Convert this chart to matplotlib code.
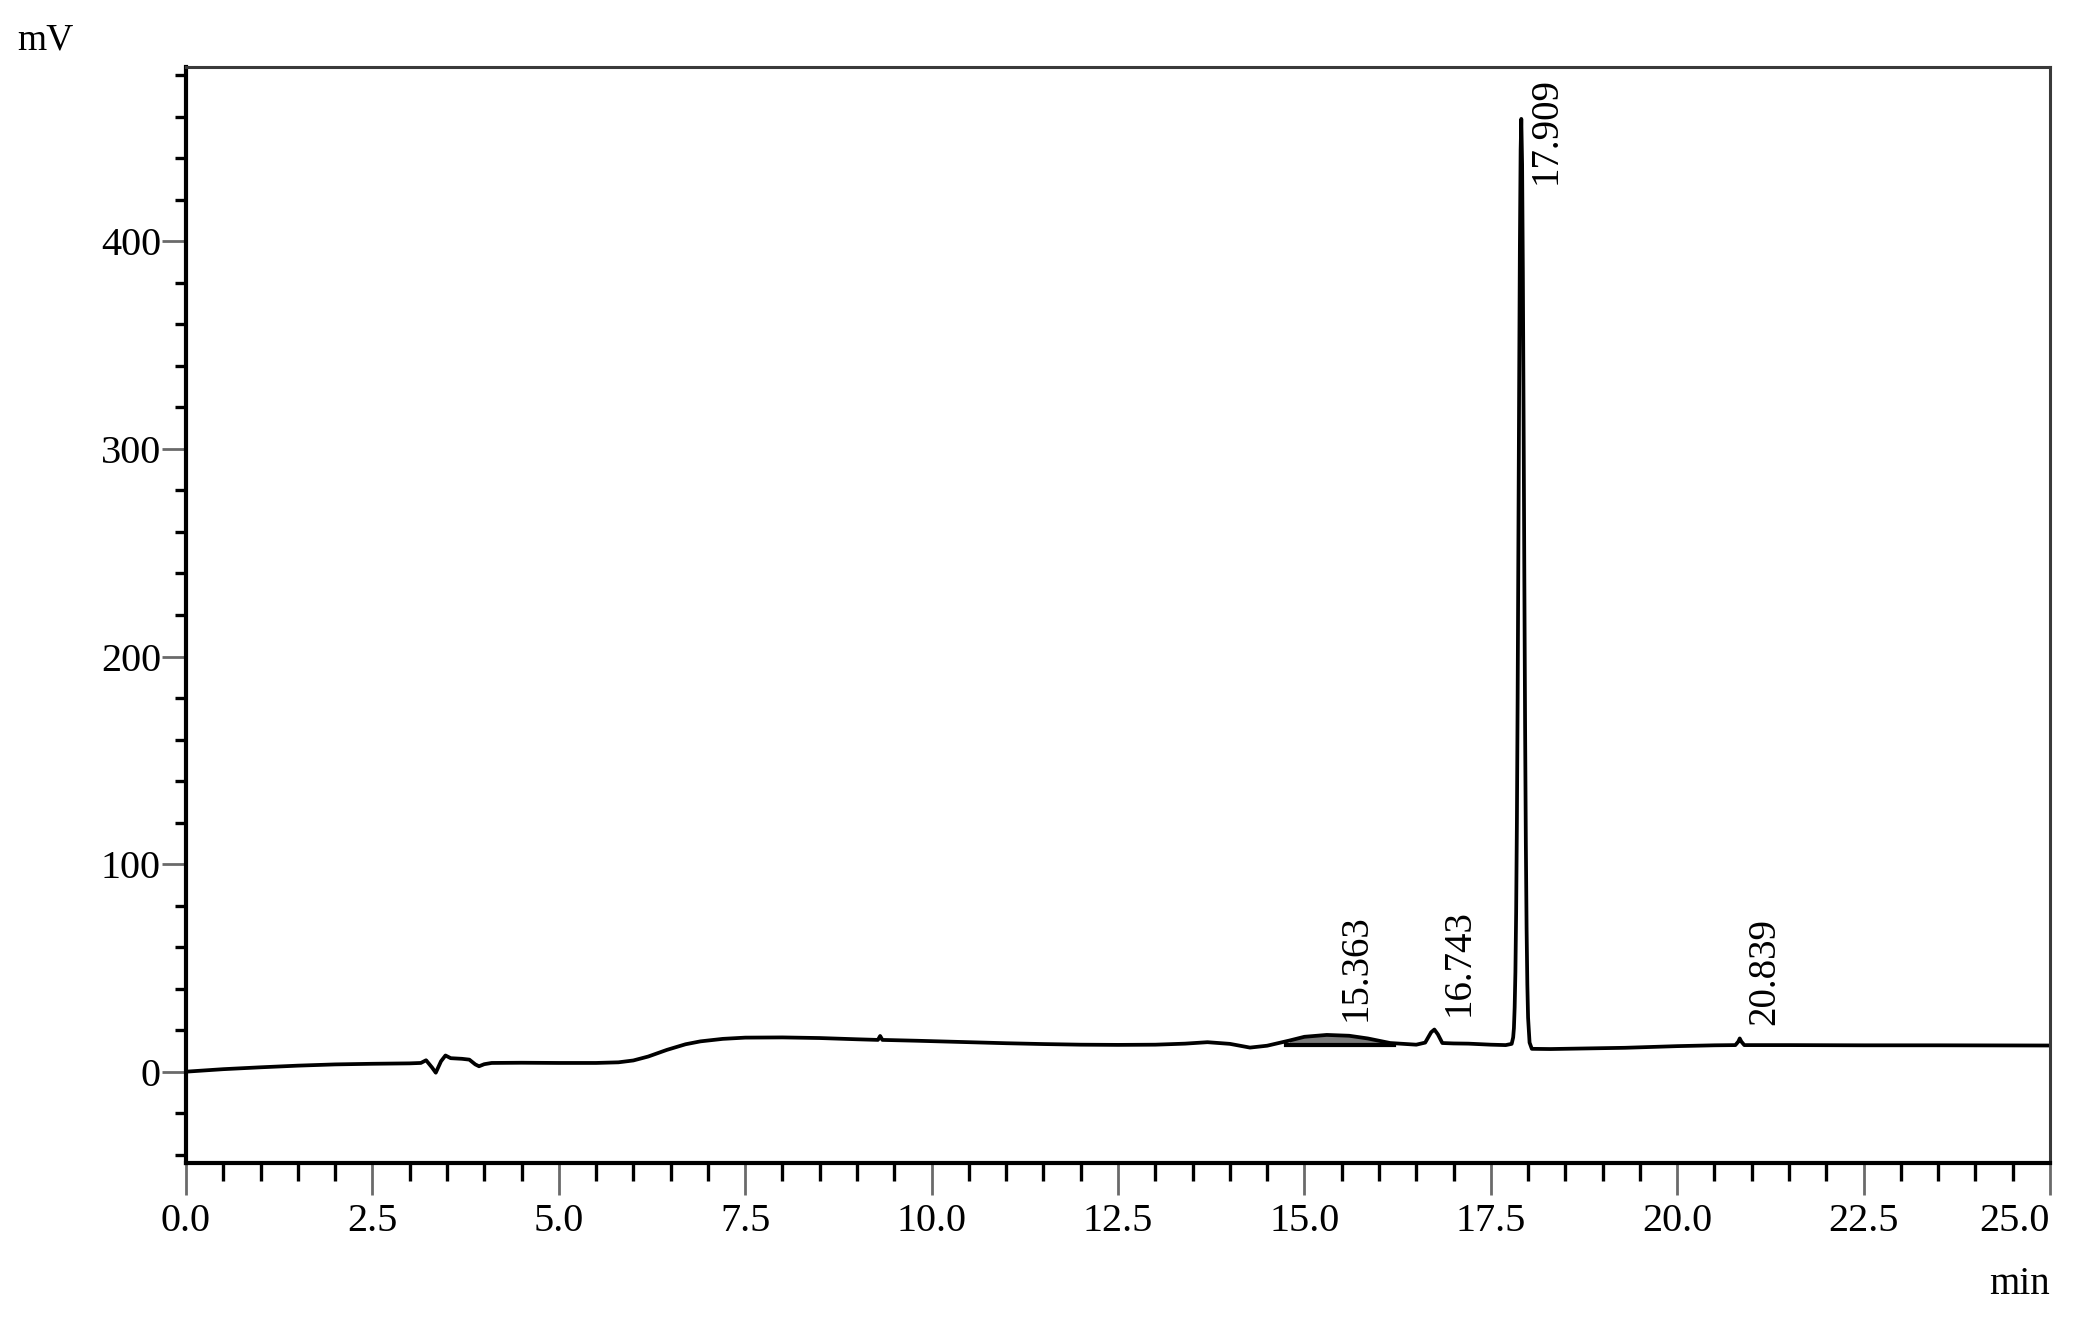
import matplotlib
matplotlib.use("Agg")
import matplotlib.pyplot as plt
from matplotlib.ticker import MultipleLocator

# ---- data ----
time_min = [0.0, 0.5, 1.0, 1.5, 2.0, 2.5, 3.0, 3.15, 3.22, 3.30, 3.35, 3.42, 3.48,
            3.55, 3.70, 3.80, 3.88, 3.93, 4.0, 4.1, 4.5, 5.0, 5.5, 5.8, 6.0, 6.2,
            6.45, 6.7, 6.9, 7.2, 7.5, 8.0, 8.5, 9.0, 9.28, 9.31, 9.34, 9.8, 10.5,
            11.0, 11.5, 12.0, 12.5, 13.0, 13.4, 13.7, 14.0, 14.27, 14.5, 14.8, 15.0,
            15.3, 15.6, 15.85, 16.15, 16.5, 16.62, 16.70, 16.743, 16.79, 16.85, 17.0,
            17.2, 17.5, 17.7, 17.78, 17.80, 17.81, 17.82, 17.83, 17.84, 17.85, 17.86,
            17.87, 17.88, 17.89, 17.90, 17.909, 17.92, 17.93, 17.94, 17.95, 17.96,
            17.97, 17.98, 17.99, 18.00, 18.02, 18.05, 18.3, 18.8, 19.3, 20.0, 20.5,
            20.78, 20.82, 20.839, 20.86, 20.9, 21.5, 22.5, 23.5, 25.0]
signal_mv = [0.0, 1.2, 2.1, 2.9, 3.5, 3.8, 4.0, 4.2, 5.5, 2.0, -0.5, 5.0, 7.8,
             6.5, 6.2, 5.8, 3.5, 2.6, 3.6, 4.2, 4.3, 4.2, 4.2, 4.5, 5.4, 7.3,
             10.5, 13.2, 14.6, 15.8, 16.4, 16.5, 16.2, 15.6, 15.3, 17.2, 15.3, 14.9, 14.2,
             13.7, 13.3, 13.0, 12.9, 13.0, 13.5, 14.2, 13.4, 11.6, 12.5, 15.0, 16.8,
             17.7, 17.3, 16.0, 13.8, 13.0, 14.0, 19.0, 20.3, 18.0, 13.8, 13.6,
             13.5, 13.0, 12.8, 13.4, 16.5, 21.0, 31.0, 48.0, 77.0, 120.0, 180.0,
             254.0, 329.0, 398.0, 444.0, 459.0, 437.0, 385.0, 313.0, 237.0, 166.0,
             110.0, 69.0, 42.0, 26.0, 14.0, 11.0, 10.9, 11.2, 11.5, 12.3, 12.7,
             12.8, 14.5, 16.0, 14.5, 12.8, 12.8, 12.7, 12.7, 12.6]

peak_times = [15.363, 16.743, 17.909, 20.839]
peak_heights = [17.7, 20.3, 459.0, 16.0]
peak_labels = ["15.363", "16.743", "17.909", "20.839"]

# integrated hump (shaded) for 15.363
hump_start, hump_end, hump_base = 14.75, 16.2, 13.0

x_ticks = [0.0, 2.5, 5.0, 7.5, 10.0, 12.5, 15.0, 17.5, 20.0, 22.5, 25.0]
x_tick_labels = ["0.0", "2.5", "5.0", "7.5", "10.0", "12.5", "15.0", "17.5",
                 "20.0", "22.5", "25.0"]
y_ticks = [0, 100, 200, 300, 400]

serif = ["Liberation Serif", "DejaVu Serif"]
plt.rcParams["font.family"] = serif

W, H, DPI = 2076, 1323, 100
fig = plt.figure(figsize=(W / DPI, H / DPI), dpi=DPI)
ax = fig.add_axes([186 / W, 1 - 1163 / H, (2050 - 186) / W, (1163 - 67) / H])

ax.plot(time_min, signal_mv, color="black", lw=2.7, solid_joinstyle="round")

xs = [t for t in time_min if hump_start <= t <= hump_end]
ys = [v for t, v in zip(time_min, signal_mv) if hump_start <= t <= hump_end]
ax.fill_between(xs, ys, hump_base, color="#7a7a7a", lw=0)
ax.plot([hump_start, hump_end], [hump_base, hump_base], color="black", lw=3.0)

ax.set_xlim(0, 25)
ax.set_ylim(-44, 484)
ax.set_xticks(x_ticks)
ax.set_xticklabels(x_tick_labels)
ax.set_yticks(y_ticks)
ax.xaxis.set_minor_locator(MultipleLocator(0.5))
ax.yaxis.set_minor_locator(MultipleLocator(20))
ax.get_xticklabels()[-1].set_horizontalalignment("right")

for s in ["left", "bottom"]:
    ax.spines[s].set_linewidth(3.0)
    ax.spines[s].set_color("black")
for s in ["top", "right"]:
    ax.spines[s].set_linewidth(2.2)
    ax.spines[s].set_color("#3a3a3a")

ax.tick_params(axis="x", which="major", direction="out", length=23, width=2.0,
               color="#6a6a6a", labelsize=29, pad=6)
ax.tick_params(axis="x", which="minor", direction="out", length=13, width=2.4,
               color="black")
ax.tick_params(axis="y", which="major", direction="out", length=17, width=2.0,
               color="#6a6a6a", labelsize=29, pad=1)
ax.tick_params(axis="y", which="minor", direction="out", length=8, width=2.4,
               color="black")

for t, h, lab in zip(peak_times, peak_heights, peak_labels):
    if h > 400:
        ax.annotate(lab, xy=(t, 1.0), xycoords=("data", "axes fraction"),
                    xytext=(18, -7), textcoords="offset points", rotation=90,
                    ha="center", va="top", fontsize=28, family=serif)
    else:
        ax.annotate(lab, xy=(t, h), xytext=(18, 10), textcoords="offset points",
                    rotation=90, ha="center", va="bottom", fontsize=28, family=serif)

fig.text(45 / W, 1 - 40 / H, "mV", ha="center", va="center", fontsize=27)
fig.text(2019 / W, 1 - 1285 / H, "min", ha="center", va="center", fontsize=28)

fig.savefig("out.png", dpi=DPI, facecolor="white")
